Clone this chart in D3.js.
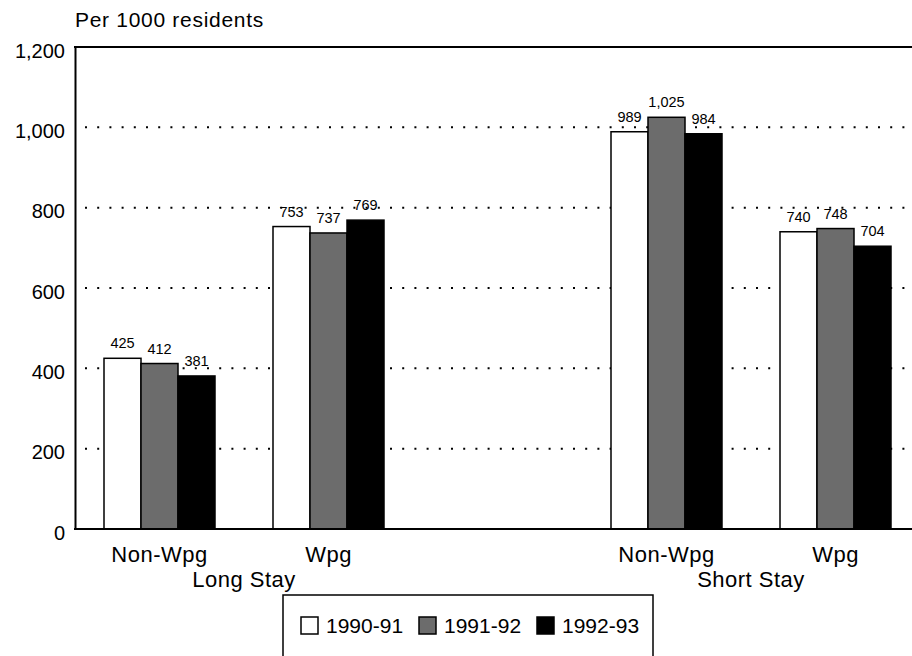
<!DOCTYPE html>
<html>
<head>
<meta charset="utf-8">
<script src="https://cdn.jsdelivr.net/npm/d3@7/dist/d3.min.js"></script>
<style>
  html, body { margin: 0; padding: 0; background: #fff; }
  svg { display: block; font-family: "Liberation Sans", Arial, Helvetica, sans-serif; }
</style>
</head>
<body>
<svg id="chart" width="912" height="656"></svg>
<script>
// ---- data ----
const groups = ["Long Stay", "Short Stay"];
const regions = ["Non-Wpg", "Wpg"];
const seriesNames = ["1990-91", "1991-92", "1992-93"];
const values1990 = [425, 753, 989, 740];
const values1991 = [412, 737, 1025, 748];
const values1992 = [381, 769, 984, 704];
const yTicks = [0, 200, 400, 600, 800, 1000, 1200];
const yTitle = "Per 1000 residents";

(function () {
const seriesValues = [values1990, values1991, values1992];
const fills = ["#ffffff", "#6c6c6c", "#000000"];

const rows = [];
groups.forEach((g, gi) => regions.forEach((r, ri) => {
  const idx = gi * regions.length + ri;
  rows.push({ key: g + "|" + r, group: g, region: r,
    vals: seriesNames.map((s, si) => ({ series: s, si: si, value: seriesValues[si][idx] })) });
}));
const slots = [rows[0].key, rows[1].key, "gap", rows[2].key, rows[3].key];

const svg = d3.select("#chart");
const mLeft = 75, mRight = 920, mTop = 47, mBottom = 529;

const x0 = d3.scaleBand().domain(slots).range([mLeft, mRight]).padding(0);
const x1 = d3.scaleBand().domain(seriesNames).range([29, x0.bandwidth() - 29]).padding(0);
const y = d3.scaleLinear().domain([0, 1200]).range([mBottom, mTop]);

// gridlines (dotted)
svg.append("g").selectAll("line")
  .data(yTicks.filter(t => t > 0 && t < 1200))
  .join("line")
  .attr("x1", mLeft + 10).attr("x2", mRight)
  .attr("y1", d => y(d)).attr("y2", d => y(d))
  .attr("stroke", "#000").attr("stroke-width", 2)
  .attr("stroke-dasharray", "2,10.2");

// y axis
const yAxis = svg.append("g")
  .attr("transform", `translate(${mLeft},0)`)
  .call(d3.axisLeft(y).tickValues(yTicks).tickSize(0).tickPadding(10)
    .tickFormat(d3.format(",")));
yAxis.select(".domain").attr("stroke", "#000").attr("stroke-width", 2);
yAxis.selectAll("text")
  .attr("font-size", 20).attr("fill", "#000")
  .attr("font-family", "'Liberation Sans', Arial, sans-serif")
  .attr("dy", "0.5em");

// top frame
svg.append("line").attr("x1", mLeft - 1).attr("x2", mRight).attr("y1", y(1200)).attr("y2", y(1200))
  .attr("stroke", "#000").attr("stroke-width", 2);

// bars
const rowG = svg.append("g").selectAll("g")
  .data(rows).join("g")
  .attr("transform", d => `translate(${x0(d.key)},0)`);

rowG.selectAll("rect")
  .data(d => d.vals).join("rect")
  .attr("x", d => x1(d.series))
  .attr("width", x1.bandwidth())
  .attr("y", d => y(d.value))
  .attr("height", d => y(0) - y(d.value))
  .attr("fill", d => fills[d.si])
  .attr("stroke", "#000").attr("stroke-width", 1.5);

rowG.selectAll("text.val")
  .data(d => d.vals).join("text")
  .attr("class", "val")
  .attr("x", d => x1(d.series) + x1.bandwidth() / 2)
  .attr("y", d => y(d.value) - 10)
  .attr("text-anchor", "middle")
  .attr("font-size", 14.5)
  .attr("fill", "#000")
  .text(d => d3.format(",")(d.value));

// baseline
svg.append("line").attr("x1", mLeft - 1).attr("x2", mRight).attr("y1", mBottom).attr("y2", mBottom)
  .attr("stroke", "#000").attr("stroke-width", 2);

// region labels
svg.append("g").selectAll("text")
  .data(rows).join("text")
  .attr("x", d => x0(d.key) + x0.bandwidth() / 2)
  .attr("y", 562)
  .attr("text-anchor", "middle")
  .attr("font-size", 22).attr("letter-spacing", 0.5)
  .attr("fill", "#000")
  .text(d => d.region);

// group labels
svg.append("g").selectAll("text")
  .data(groups).join("text")
  .attr("x", g => d3.mean(rows.filter(r => r.group === g), r => x0(r.key) + x0.bandwidth() / 2))
  .attr("y", 587)
  .attr("text-anchor", "middle")
  .attr("font-size", 22).attr("letter-spacing", 0.5)
  .attr("fill", "#000")
  .text(d => d);

// y title
svg.append("text")
  .attr("x", 75).attr("y", 27)
  .attr("font-size", 21).attr("letter-spacing", 0.7)
  .attr("fill", "#000")
  .text(yTitle);

// legend
const lg = svg.append("g");
lg.append("rect").attr("x", 283).attr("y", 595).attr("width", 370).attr("height", 80)
  .attr("fill", "#fff").attr("stroke", "#000").attr("stroke-width", 1.5);
const item = lg.selectAll("g.item").data(seriesNames).join("g")
  .attr("class", "item")
  .attr("transform", (d, i) => `translate(${301 + i * 118},0)`);
item.append("rect").attr("x", 0).attr("y", 617).attr("width", 17).attr("height", 17)
  .attr("fill", (d, i) => fills[i]).attr("stroke", "#000").attr("stroke-width", 1.5);
item.append("text").attr("x", 25).attr("y", 633)
  .attr("font-size", 21).attr("fill", "#000")
  .text(d => d);
})();
</script>
</body>
</html>
